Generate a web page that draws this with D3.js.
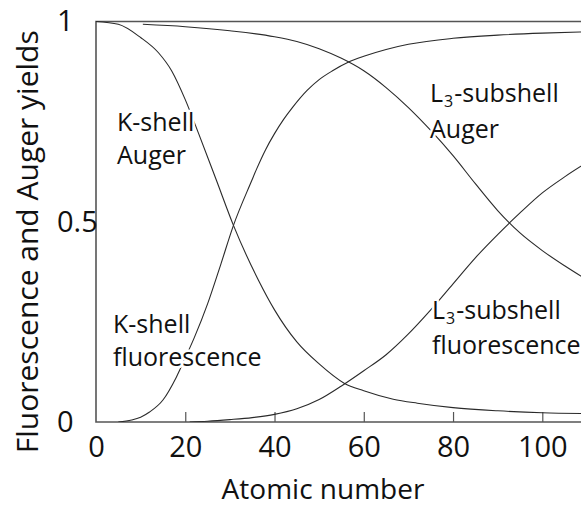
<!DOCTYPE html>
<html>
<head>
<meta charset="utf-8">
<title>Fluorescence and Auger yields</title>
<style>
  body { margin: 0; background: #fff; }
  text { font-family: 'Open Sans', sans-serif; fill: #111; }
  .curve { fill: none; stroke: #2a2a2a; stroke-width: 1.1; }
  .frame { fill: none; stroke: #555; stroke-width: 1.6; }
  .lbl { paint-order: stroke; stroke: #fff; stroke-width: 5px; stroke-linejoin: round; }
</style>
<script src="https://d3js.org/d3.v7.min.js"></script>
</head>
<body>
<div id="chart"></div>
<script>
// ******* Data *******
const kAugerZ   = [0, 5, 10, 14, 17, 20, 23, 27, 30.8, 36.4, 40, 45, 50, 55.6, 60, 66.6, 72, 80, 90, 100, 110];
const kAugerY   = [1, 0.993, 0.96, 0.922, 0.876, 0.805, 0.72, 0.603, 0.491, 0.354, 0.28, 0.2, 0.145, 0.097, 0.078, 0.057, 0.047, 0.036, 0.028, 0.023, 0.021];

const kFluorZ   = [5, 8, 10, 12, 15, 18, 20, 22, 25, 28, 30.8, 34.9, 36, 38, 40, 42, 44, 47.3, 50, 53, 56.5, 60, 65, 70, 80, 90, 100, 110];
const kFluorY   = [0, 0.005, 0.012, 0.025, 0.055, 0.112, 0.16, 0.21, 0.295, 0.395, 0.491, 0.603, 0.632, 0.68, 0.72, 0.755, 0.785, 0.828, 0.855, 0.877, 0.898, 0.913, 0.93, 0.943, 0.958, 0.966, 0.971, 0.974];

const lAugerZ   = [10.5, 20, 30, 40, 45, 50, 55, 60, 65, 70, 75, 80, 85, 90, 95, 100, 105, 110];
const lAugerY   = [0.993, 0.987, 0.977, 0.962, 0.95, 0.932, 0.908, 0.877, 0.835, 0.785, 0.728, 0.665, 0.595, 0.528, 0.472, 0.428, 0.39, 0.355];

const lFluorZ   = [21, 25, 30, 35, 40, 45, 50, 55, 60, 65, 70, 75, 80, 85, 90, 95, 100, 105, 110];
const lFluorY   = [0, 0.002, 0.006, 0.011, 0.019, 0.033, 0.056, 0.09, 0.128, 0.168, 0.22, 0.28, 0.345, 0.41, 0.468, 0.522, 0.572, 0.612, 0.648];

const xTicks = [0, 20, 40, 60, 80, 100];
const yTicks = [0, 0.5, 1];

// ******* Constants *******
const width = 581,
      height = 506,
      margin = { top: 21.5, right: 0, bottom: 84, left: 96 };

const svg = d3.select("#chart").append("svg")
    .attr("width", width)
    .attr("height", height);

// ******* Scales *******
const x = d3.scaleLinear().domain([0, 100]).range([margin.left, 542.3]);
const y = d3.scaleLinear().domain([0, 1]).range([height - margin.bottom, margin.top]);
const xMax = x.invert(width);

// ******* Frame and axes *******
svg.append("path").attr("class", "frame")
    .attr("d", `M${x(xMax)},${y(1)}H${x(0)}V${y(0)}H${x(xMax)}`);

const xAxis = svg.append("g")
    .attr("transform", `translate(0,${y(0)})`)
    .call(d3.axisBottom(x).tickValues(xTicks).tickSizeInner(-10).tickSizeOuter(0).tickPadding(14));
xAxis.select(".domain").remove();
xAxis.selectAll(".tick line").attr("stroke", "#555").attr("stroke-width", 1.2);
xAxis.selectAll(".tick").filter(d => d === 0).select("line").remove();
xAxis.selectAll("text").attr("font-size", 29).attr("fill", "#111").attr("font-family", "'Open Sans', sans-serif");

const yAxis = svg.append("g")
    .attr("transform", `translate(${x(0)},0)`)
    .call(d3.axisLeft(y).tickValues(yTicks).tickSize(0).tickFormat(d3.format("")));
yAxis.select(".domain").remove();
yAxis.selectAll("text")
    .attr("x", 57 - x(0))
    .attr("text-anchor", "start")
    .attr("font-size", 29).attr("fill", "#111").attr("font-family", "'Open Sans', sans-serif");

svg.append("text")
    .attr("x", 323)
    .attr("y", 499)
    .attr("text-anchor", "middle")
    .attr("font-size", 28)
    .text("Atomic number");

svg.append("text")
    .attr("transform", `translate(38,${(y(0) + y(1)) / 2 + 20}) rotate(-90)`)
    .attr("text-anchor", "middle")
    .attr("font-size", 30)
    .text("Fluorescence and Auger yields");

// ******* Curves *******
const line = d3.line()
    .x(d => x(d[0]))
    .y(d => y(d[1]))
    .curve(d3.curveMonotoneX);

const series = [
  d3.zip(kAugerZ, kAugerY),
  d3.zip(kFluorZ, kFluorY),
  d3.zip(lAugerZ, lAugerY),
  d3.zip(lFluorZ, lFluorY)
];

svg.append("defs").append("clipPath").attr("id", "plot")
  .append("rect").attr("x", x(0)).attr("y", 0).attr("width", width - x(0)).attr("height", y(0));

svg.append("g").attr("clip-path", "url(#plot)")
  .selectAll("path")
  .data(series)
  .join("path")
    .attr("class", "curve")
    .attr("d", line);

// ******* Labels *******
function label(px, py, first, sub, rest, second, gap) {
  const t = svg.append("text").attr("class", "lbl").attr("font-size", 25)
      .attr("x", px).attr("y", py);
  t.append("tspan").text(first);
  if (sub) {
    t.append("tspan").attr("font-size", 16).attr("dx", 1).attr("dy", 5).text(sub);
    t.append("tspan").attr("dx", 1).attr("dy", -5).text(rest);
  }
  svg.append("text").attr("class", "lbl").attr("font-size", 25)
      .attr("x", px).attr("y", py + gap).text(second);
}

label(117, 131, "K-shell", null, null, "Auger", 33);
label(113, 333, "K-shell", null, null, "fluorescence", 33);
label(430, 102, "L", "3", "-subshell", "Auger", 36);
label(432, 319, "L", "3", "-subshell", "fluorescence", 35);
</script>
</body>
</html>
